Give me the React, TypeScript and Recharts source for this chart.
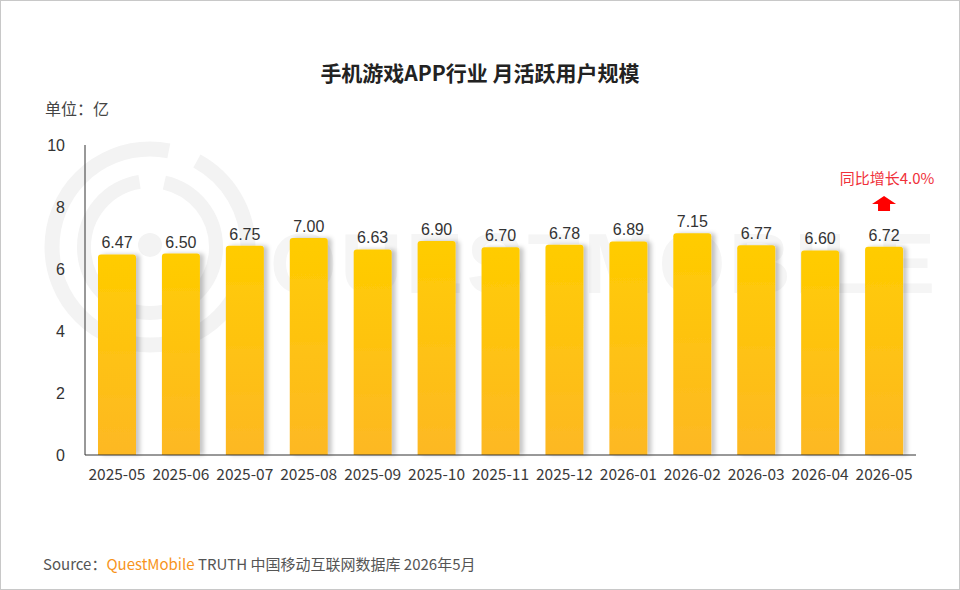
// Monthly active users of mobile game apps, bars with YoY annotation on the last month.

import { BarChart, Bar, XAxis, YAxis, LabelList, ReferenceDot } from "recharts";

const months = [
  "2025-05", "2025-06", "2025-07", "2025-08", "2025-09", "2025-10", "2025-11",
  "2025-12", "2026-01", "2026-02", "2026-03", "2026-04", "2026-05",
];
const mau = [6.47, 6.5, 6.75, 7.0, 6.63, 6.9, 6.7, 6.78, 6.89, 7.15, 6.77, 6.6, 6.72];
const yTicks = [0, 2, 4, 6, 8, 10];
const yoyText = "同比增长4.0%";
const yoyArrowAt = 8.1;
const yoyTextAt = 8.95;

const chartData = months.map((m, i) => ({ month: m, mau: mau[i] }));

function GradientBar(props: any) {
  const { x, y, width, height } = props;
  if (!height || height <= 0) return null;
  const r = 3;
  const d = `M${x},${y + height} L${x},${y + r} Q${x},${y} ${x + r},${y} L${x + width - r},${y} Q${x + width},${y} ${x + width},${y + r} L${x + width},${y + height} Z`;
  return <path d={d} fill="url(#barGrad)" filter="url(#barShadow)" />;
}

function UpArrow(props: any) {
  const { cx, cy } = props;
  if (cx == null || cy == null) return null;
  const d = `M${cx - 12},${cy} L${cx},${cy - 8} L${cx + 12},${cy} L${cx + 6},${cy} L${cx + 6},${cy + 7} L${cx - 6},${cy + 7} L${cx - 6},${cy} Z`;
  return <path d={d} fill="#ff0000" />;
}

function YoyLabel(props: any) {
  const { cx, cy } = props;
  if (cx == null || cy == null) return null;
  return (
    <text x={cx + 3} y={cy} textAnchor="middle" dominantBaseline="central" fill="#f0303a" fontSize={15}
      fontFamily="'Noto Sans CJK SC', sans-serif">
      {yoyText}
    </text>
  );
}

function Watermark() {
  return (
    <svg width={960} height={590} style={{ position: "absolute", left: 0, top: 0 }}>
      <g fill="none" stroke="#f3f3f3">
        <circle cx={150} cy={247} r={98} strokeWidth={15} strokeDasharray="480 30 105 20" />
        <circle cx={150} cy={247} r={66} strokeWidth={14} strokeDasharray="300 25 90 20" />
      </g>
      <circle cx={150} cy={245} r={12} fill="#f3f3f3" />
      <text x={270} y={293} fontSize={86} fontWeight="bold" fill="#f5f5f5" textLength={665}
        fontFamily="'Liberation Sans', Arial, sans-serif">
        QUESTMOBILE
      </text>
    </svg>
  );
}

export default function App() {
  return (
    <div style={{ position: "absolute", left: 0, top: 0, width: 960, height: 590, background: "#fff", overflow: "hidden" }}>
      <Watermark />
      <div style={{ position: "absolute", left: 0, top: 0 }}>
        <BarChart
          width={960}
          height={590}
          data={chartData}
          margin={{ top: 145, right: 44, bottom: 105, left: 25 }}
          style={{ fontFamily: "'Liberation Sans', Arial, sans-serif" }}
        >
          <defs>
            <linearGradient id="barGrad" x1="0" y1="0" x2="0" y2="1">
              <stop offset="0%" stopColor="#ffcc00" />
              <stop offset="100%" stopColor="#fdb824" />
            </linearGradient>
            <filter id="barShadow" x="-20%" y="-10%" width="160%" height="120%">
              <feDropShadow dx={4} dy={0} stdDeviation={2} floodColor="#000" floodOpacity={0.22} />
            </filter>
          </defs>
          <XAxis
            dataKey="month"
            axisLine={{ stroke: "#333", strokeWidth: 1 }}
            tickLine={false}
            tickMargin={8}
            interval={0}
            tick={{ fontSize: 15.5, fill: "#3a3a3a", fontFamily: "'Noto Sans CJK SC', sans-serif" }}
          />
          <YAxis
            domain={[0, 10]}
            ticks={yTicks}
            width={60}
            axisLine={{ stroke: "#333", strokeWidth: 1 }}
            tickLine={false}
            tickMargin={14}
            tick={{ fontSize: 16, fill: "#333" }}
          />
          <Bar dataKey="mau" barSize={38} shape={<GradientBar />} isAnimationActive={false}>
            <LabelList
              dataKey="mau"
              position="top"
              offset={6}
              formatter={(v: any) => Number(v).toFixed(2)}
              style={{ fontSize: 16, fill: "#333" }}
            />
          </Bar>
          <ReferenceDot x={months[months.length - 1]} y={yoyArrowAt} shape={<UpArrow />} />
          <ReferenceDot x={months[months.length - 1]} y={yoyTextAt} shape={<YoyLabel />} />
        </BarChart>
      </div>
      <div style={{ position: "absolute", left: 0, top: 57, width: 960, textAlign: "center", fontSize: 21, fontWeight: "bold", color: "#222", fontFamily: "'Noto Sans CJK SC', sans-serif" }}>
        手机游戏APP行业 月活跃用户规模
      </div>
      <div style={{ position: "absolute", left: 45, top: 96, fontSize: 16, color: "#444", fontFamily: "'Noto Sans CJK SC', sans-serif" }}>
        单位：亿
      </div>
      <div style={{ position: "absolute", left: 43, top: 553, fontSize: 15, color: "#555", fontFamily: "'Noto Sans CJK SC', sans-serif", whiteSpace: "nowrap" }}>
        Source：<span style={{ color: "#f7941d" }}>QuestMobile</span> TRUTH 中国移动互联网数据库 2026年5月
      </div>
      <div style={{ position: "absolute", left: 0, top: 0, width: 960, height: 590, boxSizing: "border-box", border: "1px solid #c8c8c8", pointerEvents: "none" }} />
    </div>
  );
}
